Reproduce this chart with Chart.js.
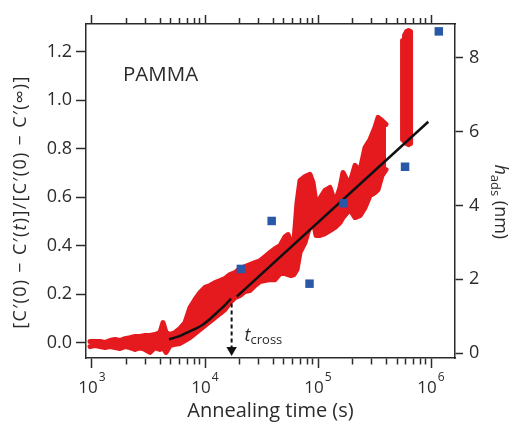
<!DOCTYPE html>
<html>
<head>
<meta charset="utf-8">
<title>PAMMA annealing</title>
<script src="https://cdn.jsdelivr.net/npm/chart.js@4.4.1/dist/chart.umd.min.js"></script>
<style>
  html, body { margin: 0; padding: 0; background: #fff; }
</style>
</head>
<body>
<canvas id="chart" width="513" height="426"></canvas>
<script>
// red band: upper / lower edge of the measured C' signal
const bandTime = [960, 1063, 1177, 1303, 1443, 1598, 1770, 1959, 2169, 2402, 2660, 2945, 3260, 3610, 3998,
  4250, 4518, 4900, 5428, 6010, 6654, 7367, 8157, 9032, 10000, 11070, 12260, 13580, 15030, 16640, 18430,
  20400, 22590, 25010, 27700, 30670, 33960, 37600, 41630, 46100, 51040, 54270, 57680, 61330, 65200,
  69290, 76720, 84950, 90300, 96000, 104150, 115300, 127700, 141400, 156600, 166400, 180700,
  192000, 212600, 235400, 260600, 288600, 319600, 339800, 368400, 399800];
const bandUpper = [0.005, 0.005, 0.005, 0.001, 0.009, 0.013, 0.009, 0.017, 0.021, 0.026, 0.026, 0.030, 0.030, 0.034, 0.042,
  0.083, 0.042, 0.034, 0.042, 0.059, 0.083, 0.145, 0.178, 0.207, 0.228, 0.236, 0.248, 0.256, 0.265, 0.281, 0.289,
  0.306, 0.314, 0.322, 0.330, 0.338, 0.355, 0.372, 0.388, 0.400, 0.437, 0.446, 0.413, 0.421, 0.578,
  0.669, 0.685, 0.694, 0.661, 0.578, 0.595, 0.628, 0.640, 0.578, 0.640, 0.702, 0.669,
  0.661, 0.731, 0.710, 0.805, 0.838, 0.888, 0.929, 0.916, 0.900];
const bandLower = [-0.016, -0.012, -0.016, -0.020, -0.016, -0.020, -0.024, -0.016, -0.020, -0.028, -0.020, -0.028, -0.040, -0.020, -0.028,
  -0.020, -0.040, -0.012, -0.007, -0.003, 0.009, 0.021, 0.038, 0.054, 0.071, 0.087, 0.104, 0.120, 0.137, 0.166, 0.186,
  0.195, 0.211, 0.215, 0.236, 0.252, 0.256, 0.260, 0.260, 0.285, 0.285, 0.281, 0.277, 0.281, 0.302,
  0.372, 0.413, 0.483, 0.508, 0.442, 0.442, 0.450, 0.462, 0.475, 0.495, 0.516, 0.536,
  0.549, 0.516, 0.524, 0.557, 0.607, 0.619, 0.631, 0.689, 0.714];

// last burst near 6e5 s, traced up and down
const lateTime = [560000, 560000, 583000, 583000, 607000, 607000, 632000, 632000, 659000, 659000];
const lateValue = [1.246, 0.838, 0.830, 1.267, 1.283, 0.821, 0.817, 1.287, 1.283, 0.821];

// black fits
const fitEarlyTime = [4800, 5768, 6790, 7995, 9400, 11070, 13030, 15030, 16980];
const fitEarlyValue = [0.014, 0.025, 0.040, 0.055, 0.072, 0.098, 0.128, 0.155, 0.182];
const fitLateTime = [19080, 946000];
const fitLateValue = [0.19, 0.911];

// t_cross arrow
const tCross = 17200;
const arrowValue = [0.162, -0.03];

// h_ads (nm), right axis
const hadsTime = [20760, 38900, 84100, 168200, 589000, 1172000];
const hadsValue = [2.28, 3.58, 1.88, 4.06, 5.05, 8.72];

// axes
const xMajorTicks = [1e3, 1e4, 1e5, 1e6];
const xTickBase = "10";
const xTickExponents = ["3", "4", "5", "6"];
const xMinorTicks = [2e3, 3e3, 4e3, 5e3, 6e3, 7e3, 8e3, 9e3,
  2e4, 3e4, 4e4, 5e4, 6e4, 7e4, 8e4, 9e4,
  2e5, 3e5, 4e5, 5e5, 6e5, 7e5, 8e5, 9e5];
const yTicks = [0, 0.2, 0.4, 0.6, 0.8, 1.0, 1.2];
const y2Ticks = [0, 2, 4, 6, 8];

const FONT = "'Open Sans', 'DejaVu Sans', sans-serif";
const INK = "#2b2b2b";
const RED = "#e41a1f";

const pts = (xs, ys) => xs.map((x, i) => ({ x: x, y: ys[i] }));
const allXTicks = xMajorTicks.concat(xMinorTicks).sort((a, b) => a - b);
const isMajor = (v) => xMajorTicks.indexOf(v) !== -1;

function drawRuns(ctx, runs, x, y, angle, align, spacing) {
  ctx.save();
  ctx.translate(x, y);
  ctx.rotate(angle);
  ctx.textBaseline = "middle";
  ctx.textAlign = "left";
  ctx.fillStyle = INK;
  if (spacing) ctx.letterSpacing = spacing;
  let total = 0;
  runs.forEach((r) => {
    ctx.font = r.font;
    r.w = ctx.measureText(r.text).width;
    total += r.w;
  });
  let cx = align === "left" ? 0 : -total / 2;
  runs.forEach((r) => {
    ctx.font = r.font;
    ctx.fillText(r.text, cx, r.dy || 0);
    cx += r.w;
  });
  ctx.restore();
}

const labelsPlugin = {
  id: "labels",
  afterDraw(chart) {
    const { ctx, chartArea, scales } = chart;
    const f = (size, style) => `${style || ""} ${size}px ${FONT}`;

    // panel label
    ctx.save();
    ctx.font = f(20.5);
    ctx.fillStyle = INK;
    ctx.textBaseline = "alphabetic";
    ctx.fillText("PAMMA", chartArea.left + 37, chartArea.top + 57);
    ctx.restore();

    // bottom tick labels 10^n
    ctx.save();
    ctx.fillStyle = INK;
    ctx.textBaseline = "alphabetic";
    xMajorTicks.forEach((v, i) => {
      const px = scales.x.getPixelForValue(v);
      ctx.font = f(17);
      const wb = ctx.measureText(xTickBase).width;
      ctx.font = f(12);
      const we = ctx.measureText(xTickExponents[i]).width;
      const x0 = px - (wb + we + 1) / 2;
      ctx.font = f(17);
      ctx.fillText(xTickBase, x0, scales.x.top + 35);
      ctx.font = f(12);
      ctx.fillText(xTickExponents[i], x0 + wb + 1, scales.x.top + 23);
    });
    ctx.restore();

    // t_cross
    const ax = scales.x.getPixelForValue(tCross);
    const ay = scales.y.getPixelForValue(0.03);
    drawRuns(ctx, [
      { text: "t", font: f(18, "italic") },
      { text: "cross", font: f(13), dy: 5 },
    ], ax + 13, ay, 0, "left");

    // left title
    drawRuns(ctx, [
      { text: "[C\u2032(0) \u2212 C\u2032(", font: f(18) },
      { text: "t", font: f(18, "italic") },
      { text: ")]/[C\u2032(0) \u2212 C\u2032(\u221E)]", font: f(18) },
    ], 21, scales.y.getPixelForValue(0.58), -Math.PI / 2, "center", "1.3px");

    // right title
    drawRuns(ctx, [
      { text: "h", font: f(18, "italic") },
      { text: "ads", font: f(13), dy: 5 },
      { text: " (nm)", font: f(18) },
    ], 500, scales.y2.getPixelForValue(4.1), Math.PI / 2);
  },
};

const redLine = {
  borderColor: RED,
  backgroundColor: RED,
  borderWidth: 5,
  borderJoinStyle: "round",
  borderCapStyle: "round",
  pointRadius: 0,
  tension: 0,
  yAxisID: "y",
  order: 10,
};

new Chart(document.getElementById("chart"), {
  type: "line",
  data: {
    datasets: [
      Object.assign({ data: pts(bandTime, bandUpper), fill: false }, redLine),
      Object.assign({ data: pts(bandTime, bandLower), fill: "-1" }, redLine),
      Object.assign({ data: pts(lateTime, lateValue), fill: false }, redLine),
      {
        data: pts(fitEarlyTime, fitEarlyValue),
        borderColor: "#111",
        borderWidth: 2.5,
        pointRadius: 0,
        cubicInterpolationMode: "monotone",
        fill: false,
        yAxisID: "y",
        order: 3,
      },
      {
        data: pts(fitLateTime, fitLateValue),
        borderColor: "#111",
        borderWidth: 2.5,
        pointRadius: 0,
        fill: false,
        yAxisID: "y",
        order: 3,
      },
      {
        data: pts([tCross, tCross], arrowValue),
        borderColor: "#111",
        backgroundColor: "#111",
        borderWidth: 2,
        borderDash: [4, 3],
        pointStyle: "triangle",
        rotation: 180,
        pointRadius: [0, 6],
        pointBorderWidth: 0,
        fill: false,
        yAxisID: "y",
        order: 2,
      },
      {
        data: pts(hadsTime, hadsValue),
        showLine: false,
        pointStyle: "rect",
        pointRadius: 6,
        pointBorderWidth: 0,
        backgroundColor: "#2958a8",
        borderColor: "#2958a8",
        yAxisID: "y2",
        order: 0,
      },
    ],
  },
  options: {
    responsive: false,
    animation: false,
    events: [],
    layout: { padding: 0 },
    plugins: {
      legend: { display: false },
      tooltip: { enabled: false },
    },
    scales: {
      x: {
        type: "logarithmic",
        position: "bottom",
        min: 885,
        max: 1630000,
        afterBuildTicks: (s) => { s.ticks = allXTicks.map((v) => ({ value: v })); },
        afterFit: (s) => { s.height = 68; },
        ticks: {
          autoSkip: false,
          maxRotation: 0,
          callback: () => "",
        },
        grid: {
          drawOnChartArea: false,
          tickLength: 10,
          tickColor: INK,
          tickWidth: 1.5,
          tickBorderDash: (c) => (c.tick && isMajor(c.tick.value) ? [] : [6, 100]),
        },
        border: { color: INK, width: 1.5 },
        title: {
          display: true,
          text: "Annealing time (s)",
          color: INK,
          font: { family: FONT, size: 20 },
          padding: { top: 0, bottom: 3 },
        },
      },
      x2: {
        type: "logarithmic",
        position: "top",
        min: 885,
        max: 1630000,
        afterBuildTicks: (s) => { s.ticks = allXTicks.map((v) => ({ value: v })); },
        afterFit: (s) => { s.height = 24; },
        ticks: { display: false, autoSkip: false },
        grid: {
          drawOnChartArea: false,
          tickLength: 9,
          tickColor: INK,
          tickWidth: 1.5,
          tickBorderDash: (c) => (c.tick && isMajor(c.tick.value) ? [] : [0, 3, 6, 100]),
        },
        border: { color: INK, width: 1.5 },
      },
      y: {
        type: "linear",
        position: "left",
        min: -0.063,
        max: 1.314,
        afterBuildTicks: (s) => { s.ticks = yTicks.map((v) => ({ value: v })); },
        afterFit: (s) => { s.width = 86; },
        ticks: {
          padding: 4,
          color: INK,
          font: { family: FONT, size: 18 },
          callback: (v) => v.toFixed(1),
        },
        grid: { drawOnChartArea: false, tickLength: 10, tickColor: INK, tickWidth: 1.5 },
        border: { color: INK, width: 1.5 },
      },
      y2: {
        type: "linear",
        position: "right",
        min: -0.135,
        max: 8.92,
        afterBuildTicks: (s) => { s.ticks = y2Ticks.map((v) => ({ value: v })); },
        afterFit: (s) => { s.width = 58; },
        ticks: {
          padding: 6,
          color: INK,
          font: { family: FONT, size: 18 },
          callback: (v) => String(v),
        },
        grid: { drawOnChartArea: false, tickLength: 8, tickColor: INK, tickWidth: 1.5 },
        border: { color: INK, width: 1.5 },
      },
    },
  },
  plugins: [labelsPlugin],
});
</script>
</body>
</html>
